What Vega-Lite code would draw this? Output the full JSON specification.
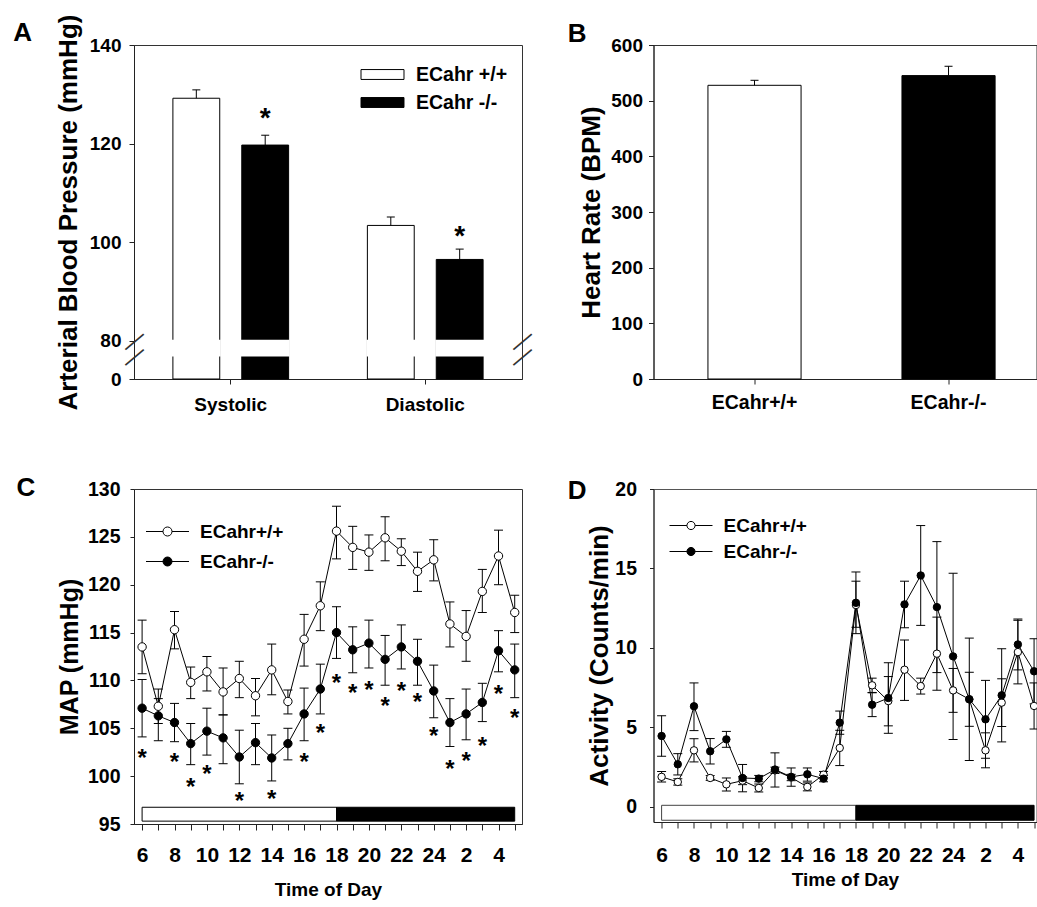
{
  "$schema": "https://vega.github.io/schema/vega-lite/v6.json",
  "background": "white",
  "padding": {"left": 12, "top": 13, "right": 0, "bottom": 0},
  "columns": 2,
  "spacing": {"column": 26.5, "row": 59},
  "datasets": {
    "bp": [
      {"measure": "Systolic", "genotype": "ECahr +/+", "mean": 129.2, "upper": 130.9},
      {"measure": "Systolic", "genotype": "ECahr -/-", "mean": 119.7, "upper": 121.7, "star": 126.7},
      {"measure": "Diastolic", "genotype": "ECahr +/+", "mean": 103.4, "upper": 105.1},
      {"measure": "Diastolic", "genotype": "ECahr -/-", "mean": 96.5, "upper": 98.6, "star": 102.7}
    ],
    "breaks": [{"side": 0}, {"side": 1}],
    "hr": [
      {"genotype": "ECahr+/+", "mean": 527.6, "upper": 536.6},
      {"genotype": "ECahr-/-", "mean": 545.0, "upper": 561.8}
    ],
    "ld": [
      {"phase": "light", "start": 6, "end": 18},
      {"phase": "dark", "start": 18, "end": 29}
    ],
    "map": [
      {"hour": 6, "genotype": "ECahr+/+", "mean": 113.5, "lower": 110.7, "upper": 116.3},
      {"hour": 7, "genotype": "ECahr+/+", "mean": 107.3, "lower": 105.5, "upper": 109.1},
      {"hour": 8, "genotype": "ECahr+/+", "mean": 115.3, "lower": 113.3, "upper": 117.2},
      {"hour": 9, "genotype": "ECahr+/+", "mean": 109.8, "lower": 108.1, "upper": 111.4},
      {"hour": 10, "genotype": "ECahr+/+", "mean": 110.9, "lower": 108.9, "upper": 112.5},
      {"hour": 11, "genotype": "ECahr+/+", "mean": 108.8, "lower": 106.4, "upper": 111.3},
      {"hour": 12, "genotype": "ECahr+/+", "mean": 110.2, "lower": 108.2, "upper": 112.0},
      {"hour": 13, "genotype": "ECahr+/+", "mean": 108.4, "lower": 106.3, "upper": 110.2},
      {"hour": 14, "genotype": "ECahr+/+", "mean": 111.1, "lower": 108.5, "upper": 113.8},
      {"hour": 15, "genotype": "ECahr+/+", "mean": 107.8, "lower": 106.5, "upper": 109.0},
      {"hour": 16, "genotype": "ECahr+/+", "mean": 114.3, "lower": 111.5, "upper": 116.9},
      {"hour": 17, "genotype": "ECahr+/+", "mean": 117.8, "lower": 115.2, "upper": 120.3},
      {"hour": 18, "genotype": "ECahr+/+", "mean": 125.6, "lower": 122.7, "upper": 128.2},
      {"hour": 19, "genotype": "ECahr+/+", "mean": 123.9, "lower": 121.6, "upper": 126.1},
      {"hour": 20, "genotype": "ECahr+/+", "mean": 123.4, "lower": 121.5, "upper": 125.2},
      {"hour": 21, "genotype": "ECahr+/+", "mean": 124.9, "lower": 122.5, "upper": 127.1},
      {"hour": 22, "genotype": "ECahr+/+", "mean": 123.5, "lower": 122.0, "upper": 124.8},
      {"hour": 23, "genotype": "ECahr+/+", "mean": 121.4, "lower": 119.3, "upper": 123.4},
      {"hour": 24, "genotype": "ECahr+/+", "mean": 122.6, "lower": 120.4, "upper": 124.7},
      {"hour": 25, "genotype": "ECahr+/+", "mean": 115.9, "lower": 113.5, "upper": 118.2},
      {"hour": 26, "genotype": "ECahr+/+", "mean": 114.6, "lower": 112.0, "upper": 117.3},
      {"hour": 27, "genotype": "ECahr+/+", "mean": 119.3, "lower": 117.1, "upper": 121.6},
      {"hour": 28, "genotype": "ECahr+/+", "mean": 123.0, "lower": 120.0, "upper": 125.7},
      {"hour": 29, "genotype": "ECahr+/+", "mean": 117.1, "lower": 115.0, "upper": 118.9},
      {"hour": 6, "genotype": "ECahr-/-", "mean": 107.1, "lower": 104.1, "upper": 110.1},
      {"hour": 7, "genotype": "ECahr-/-", "mean": 106.3, "lower": 103.7, "upper": 108.1},
      {"hour": 8, "genotype": "ECahr-/-", "mean": 105.6, "lower": 103.6, "upper": 107.6},
      {"hour": 9, "genotype": "ECahr-/-", "mean": 103.4, "lower": 101.2, "upper": 105.5},
      {"hour": 10, "genotype": "ECahr-/-", "mean": 104.7, "lower": 102.2, "upper": 107.1},
      {"hour": 11, "genotype": "ECahr-/-", "mean": 104.0, "lower": 101.3, "upper": 106.4},
      {"hour": 12, "genotype": "ECahr-/-", "mean": 102.0, "lower": 99.2, "upper": 104.8},
      {"hour": 13, "genotype": "ECahr-/-", "mean": 103.5, "lower": 101.2, "upper": 105.5},
      {"hour": 14, "genotype": "ECahr-/-", "mean": 101.9, "lower": 99.5, "upper": 104.3},
      {"hour": 15, "genotype": "ECahr-/-", "mean": 103.4, "lower": 101.7, "upper": 105.0},
      {"hour": 16, "genotype": "ECahr-/-", "mean": 106.5, "lower": 103.7, "upper": 109.2},
      {"hour": 17, "genotype": "ECahr-/-", "mean": 109.1, "lower": 106.5, "upper": 111.7},
      {"hour": 18, "genotype": "ECahr-/-", "mean": 115.0, "lower": 112.3, "upper": 117.7},
      {"hour": 19, "genotype": "ECahr-/-", "mean": 113.2, "lower": 110.8, "upper": 115.6},
      {"hour": 20, "genotype": "ECahr-/-", "mean": 113.9, "lower": 111.3, "upper": 116.3},
      {"hour": 21, "genotype": "ECahr-/-", "mean": 112.2, "lower": 109.5, "upper": 114.7},
      {"hour": 22, "genotype": "ECahr-/-", "mean": 113.5, "lower": 111.2, "upper": 115.8},
      {"hour": 23, "genotype": "ECahr-/-", "mean": 112.0, "lower": 109.5, "upper": 114.3},
      {"hour": 24, "genotype": "ECahr-/-", "mean": 108.9, "lower": 106.1, "upper": 111.6},
      {"hour": 25, "genotype": "ECahr-/-", "mean": 105.6, "lower": 103.1, "upper": 108.1},
      {"hour": 26, "genotype": "ECahr-/-", "mean": 106.5, "lower": 103.8, "upper": 109.1},
      {"hour": 27, "genotype": "ECahr-/-", "mean": 107.7, "lower": 105.7, "upper": 109.7},
      {"hour": 28, "genotype": "ECahr-/-", "mean": 113.1, "lower": 110.9, "upper": 115.2},
      {"hour": 29, "genotype": "ECahr-/-", "mean": 111.1, "lower": 108.2, "upper": 113.8}
    ],
    "sigC": [
      {"hour": 6, "level": 102.5}, {"hour": 8, "level": 102.1}, {"hour": 9, "level": 99.5},
      {"hour": 10, "level": 100.8}, {"hour": 12, "level": 98.0}, {"hour": 14, "level": 98.2},
      {"hour": 16, "level": 102.1}, {"hour": 17, "level": 105.1}, {"hour": 18, "level": 110.4},
      {"hour": 19, "level": 109.3}, {"hour": 20, "level": 109.6}, {"hour": 21, "level": 108.0},
      {"hour": 22, "level": 109.5}, {"hour": 23, "level": 108.4}, {"hour": 24, "level": 104.8},
      {"hour": 25, "level": 101.4}, {"hour": 26, "level": 102.2}, {"hour": 27, "level": 103.8},
      {"hour": 28, "level": 109.2}, {"hour": 29, "level": 106.7}
    ],
    "act": [
      {"hour": 6, "genotype": "ECahr+/+", "mean": 1.89, "lower": 1.57, "upper": 2.22},
      {"hour": 7, "genotype": "ECahr+/+", "mean": 1.57, "lower": 1.37, "upper": 1.77},
      {"hour": 8, "genotype": "ECahr+/+", "mean": 3.56, "lower": 2.83, "upper": 4.29},
      {"hour": 9, "genotype": "ECahr+/+", "mean": 1.82, "lower": 1.67, "upper": 1.97},
      {"hour": 10, "genotype": "ECahr+/+", "mean": 1.42, "lower": 1.0, "upper": 1.82},
      {"hour": 11, "genotype": "ECahr+/+", "mean": 1.65, "lower": 1.4, "upper": 1.9},
      {"hour": 12, "genotype": "ECahr+/+", "mean": 1.19, "lower": 0.94, "upper": 1.44},
      {"hour": 13, "genotype": "ECahr+/+", "mean": 2.3, "lower": 2.1, "upper": 2.5},
      {"hour": 14, "genotype": "ECahr+/+", "mean": 1.85, "lower": 1.65, "upper": 2.05},
      {"hour": 15, "genotype": "ECahr+/+", "mean": 1.26, "lower": 1.01, "upper": 1.51},
      {"hour": 16, "genotype": "ECahr+/+", "mean": 2.03, "lower": 1.83, "upper": 2.23},
      {"hour": 17, "genotype": "ECahr+/+", "mean": 3.71, "lower": 2.6, "upper": 4.82},
      {"hour": 18, "genotype": "ECahr+/+", "mean": 12.7, "lower": 11.3, "upper": 14.2},
      {"hour": 19, "genotype": "ECahr+/+", "mean": 7.65, "lower": 7.2, "upper": 8.1},
      {"hour": 20, "genotype": "ECahr+/+", "mean": 6.66, "lower": 5.1, "upper": 8.2},
      {"hour": 21, "genotype": "ECahr+/+", "mean": 8.63, "lower": 6.7, "upper": 10.5},
      {"hour": 22, "genotype": "ECahr+/+", "mean": 7.6, "lower": 7.1, "upper": 8.1},
      {"hour": 23, "genotype": "ECahr+/+", "mean": 9.64, "lower": 7.34, "upper": 11.94},
      {"hour": 24, "genotype": "ECahr+/+", "mean": 7.33, "lower": 5.95, "upper": 8.71},
      {"hour": 25, "genotype": "ECahr+/+", "mean": 6.77, "lower": 5.07, "upper": 8.47},
      {"hour": 26, "genotype": "ECahr+/+", "mean": 3.56, "lower": 2.46, "upper": 4.66},
      {"hour": 27, "genotype": "ECahr+/+", "mean": 6.56, "lower": 5.06, "upper": 8.06},
      {"hour": 28, "genotype": "ECahr+/+", "mean": 9.74, "lower": 7.74, "upper": 11.74},
      {"hour": 29, "genotype": "ECahr+/+", "mean": 6.35, "lower": 4.9, "upper": 7.8},
      {"hour": 6, "genotype": "ECahr-/-", "mean": 4.46, "lower": 3.18, "upper": 5.74},
      {"hour": 7, "genotype": "ECahr-/-", "mean": 2.68, "lower": 2.01, "upper": 3.35},
      {"hour": 8, "genotype": "ECahr-/-", "mean": 6.33, "lower": 4.8, "upper": 7.8},
      {"hour": 9, "genotype": "ECahr-/-", "mean": 3.5, "lower": 2.7, "upper": 4.3},
      {"hour": 10, "genotype": "ECahr-/-", "mean": 4.25, "lower": 3.75, "upper": 4.75},
      {"hour": 11, "genotype": "ECahr-/-", "mean": 1.82, "lower": 0.95, "upper": 2.67},
      {"hour": 12, "genotype": "ECahr-/-", "mean": 1.78, "lower": 1.58, "upper": 1.98},
      {"hour": 13, "genotype": "ECahr-/-", "mean": 2.35, "lower": 1.25, "upper": 3.4},
      {"hour": 14, "genotype": "ECahr-/-", "mean": 1.89, "lower": 1.3, "upper": 2.45},
      {"hour": 15, "genotype": "ECahr-/-", "mean": 2.05, "lower": 1.62, "upper": 2.45},
      {"hour": 16, "genotype": "ECahr-/-", "mean": 1.78, "lower": 1.58, "upper": 1.98},
      {"hour": 17, "genotype": "ECahr-/-", "mean": 5.3, "lower": 4.57, "upper": 6.03},
      {"hour": 18, "genotype": "ECahr-/-", "mean": 12.84, "lower": 10.9, "upper": 14.78},
      {"hour": 19, "genotype": "ECahr-/-", "mean": 6.43, "lower": 5.68, "upper": 7.18},
      {"hour": 20, "genotype": "ECahr-/-", "mean": 6.85, "lower": 4.63, "upper": 9.07},
      {"hour": 21, "genotype": "ECahr-/-", "mean": 12.74, "lower": 11.27, "upper": 14.2},
      {"hour": 22, "genotype": "ECahr-/-", "mean": 14.56, "lower": 11.42, "upper": 17.7},
      {"hour": 23, "genotype": "ECahr-/-", "mean": 12.57, "lower": 8.45, "upper": 16.69},
      {"hour": 24, "genotype": "ECahr-/-", "mean": 9.47, "lower": 4.24, "upper": 14.7},
      {"hour": 25, "genotype": "ECahr-/-", "mean": 6.77, "lower": 2.92, "upper": 10.62},
      {"hour": 26, "genotype": "ECahr-/-", "mean": 5.51, "lower": 3.06, "upper": 7.96},
      {"hour": 27, "genotype": "ECahr-/-", "mean": 7.02, "lower": 4.09, "upper": 9.95},
      {"hour": 28, "genotype": "ECahr-/-", "mean": 10.22, "lower": 8.62, "upper": 11.82},
      {"hour": 29, "genotype": "ECahr-/-", "mean": 8.53, "lower": 6.48, "upper": 10.58}
    ]
  },
  "concat": [
    {
      "width": 388,
      "height": 334,
      "title": {"text": "A", "dx": -42, "dy": 36},
      "layer": [
        {
          "data": {"name": "bp"},
          "layer": [
            {
              "mark": {"type": "bar", "stroke": "black", "strokeWidth": 1},
              "encoding": {
                "x": {"field": "measure", "type": "nominal", "sort": ["Systolic", "Diastolic"], "scale": {"paddingInner": 0.405, "paddingOuter": 0.2}, "axis": {"title": null, "labelAngle": 0, "labelFontSize": 19, "labelPadding": 11}},
                "xOffset": {"field": "genotype", "type": "nominal", "sort": ["ECahr +/+", "ECahr -/-"], "scale": {"paddingInner": 0.32, "paddingOuter": 0}},
                "y": {"field": "mean", "type": "quantitative", "scale": {"domain": [72.25, 140], "nice": false, "zero": false}, "axis": {"title": "Arterial Blood Pressure (mmHg)", "values": [72.25, 80, 100, 120, 140], "labelExpr": "datum.value < 75 ? '0' : datum.label", "labelFontSize": 19, "labelPadding": 8, "titlePadding": 8}},
                "y2": {"datum": 72.25},
                "fill": {"field": "genotype", "type": "nominal", "scale": {"domain": ["ECahr +/+", "ECahr -/-"], "range": ["white", "black"]}, "legend": {"orient": "none", "legendX": 237, "legendY": 18, "title": null, "symbolType": "M-2,-0.46H2V0.46H-2Z", "symbolSize": 462, "symbolStrokeColor": "black", "symbolStrokeWidth": 1, "labelFontSize": 19.5, "labelOffset": 22, "rowPadding": 7}}
              }
            },
            {
              "mark": {"type": "bar", "fill": "white", "stroke": "white", "strokeWidth": 2},
              "encoding": {
                "x": {"field": "measure", "type": "nominal", "sort": ["Systolic", "Diastolic"]},
                "xOffset": {"field": "genotype", "type": "nominal", "sort": ["ECahr +/+", "ECahr -/-"]},
                "y": {"datum": 80, "type": "quantitative"},
                "y2": {"datum": 77}
              }
            },
            {
              "mark": {"type": "rule", "color": "black", "strokeWidth": 1},
              "encoding": {
                "x": {"field": "measure", "type": "nominal", "sort": ["Systolic", "Diastolic"]},
                "xOffset": {"field": "genotype", "type": "nominal", "sort": ["ECahr +/+", "ECahr -/-"]},
                "y": {"field": "mean", "type": "quantitative"},
                "y2": {"field": "upper"}
              }
            },
            {
              "mark": {"type": "tick", "orient": "horizontal", "size": 8, "thickness": 1, "color": "black", "opacity": 1},
              "encoding": {
                "x": {"field": "measure", "type": "nominal", "sort": ["Systolic", "Diastolic"]},
                "xOffset": {"field": "genotype", "type": "nominal", "sort": ["ECahr +/+", "ECahr -/-"]},
                "y": {"field": "upper", "type": "quantitative"}
              }
            },
            {
              "transform": [{"filter": "datum.star != null"}],
              "mark": {"type": "text", "text": "*", "fontSize": 28, "fontWeight": "bold", "baseline": "middle", "dy": 8, "color": "black"},
              "encoding": {
                "x": {"field": "measure", "type": "nominal", "sort": ["Systolic", "Diastolic"]},
                "xOffset": {"field": "genotype", "type": "nominal", "sort": ["ECahr +/+", "ECahr -/-"]},
                "y": {"field": "star", "type": "quantitative"}
              }
            }
          ]
        },
        {
          "data": {"name": "breaks"},
          "layer": [
            {
              "mark": {"type": "text", "text": "—", "angle": 320, "fontSize": 24, "baseline": "middle", "color": "#333"},
              "encoding": {
                "x": {"field": "side", "type": "quantitative", "scale": {"domain": [0, 1], "nice": false, "zero": false}, "axis": null},
                "y": {"datum": 79.9, "type": "quantitative"}
              }
            },
            {
              "mark": {"type": "text", "text": "—", "angle": 320, "fontSize": 24, "baseline": "middle", "color": "#333"},
              "encoding": {
                "x": {"field": "side", "type": "quantitative"},
                "y": {"datum": 76.8, "type": "quantitative"}
              }
            }
          ]
        }
      ],
      "resolve": {"scale": {"x": "independent"}}
    },
    {
      "width": 383,
      "height": 334,
      "title": {"text": "B", "dx": -11, "dy": 15},
      "data": {"name": "hr"},
      "layer": [
        {
          "mark": {"type": "bar", "stroke": "black", "strokeWidth": 1},
          "encoding": {
            "x": {"field": "genotype", "type": "nominal", "sort": ["ECahr+/+", "ECahr-/-"], "scale": {"paddingInner": 0.52, "paddingOuter": 0.247, "align": 0.568}, "axis": {"title": null, "labelAngle": 0, "labelFontSize": 19.5, "labelPadding": 9}},
            "y": {"field": "mean", "type": "quantitative", "scale": {"domain": [0, 600], "nice": false}, "axis": {"title": "Heart Rate (BPM)", "values": [0, 100, 200, 300, 400, 500, 600], "labelFontSize": 19, "labelPadding": 6, "titlePadding": 6}},
            "fill": {"field": "genotype", "type": "nominal", "scale": {"domain": ["ECahr+/+", "ECahr-/-"], "range": ["white", "black"]}, "legend": null}
          }
        },
        {
          "mark": {"type": "rule", "color": "black", "strokeWidth": 1},
          "encoding": {
            "x": {"field": "genotype", "type": "nominal", "sort": ["ECahr+/+", "ECahr-/-"]},
            "y": {"field": "mean", "type": "quantitative"},
            "y2": {"field": "upper"}
          }
        },
        {
          "mark": {"type": "tick", "orient": "horizontal", "size": 8, "thickness": 1, "color": "black", "opacity": 1},
          "encoding": {
            "x": {"field": "genotype", "type": "nominal", "sort": ["ECahr+/+", "ECahr-/-"]},
            "y": {"field": "upper", "type": "quantitative"}
          }
        }
      ]
    },
    {
      "width": 388,
      "height": 335,
      "title": {"text": "C", "dx": -41, "dy": 26},
      "layer": [
        {
          "data": {"name": "ld"},
          "transform": [{"filter": "datum.phase === 'light'"}],
          "mark": {"type": "rect", "fill": "white", "stroke": "black", "strokeWidth": 1},
          "encoding": {
            "x": {"field": "start", "type": "quantitative", "scale": {"domain": [5.5, 29.45], "nice": false, "zero": false}, "axis": {"title": "Time of Day", "titleFontSize": 19, "values": [6, 7, 8, 9, 10, 11, 12, 13, 14, 15, 16, 17, 18, 19, 20, 21, 22, 23, 24, 25, 26, 27, 28, 29], "tickCount": 40, "labelExpr": "datum.value % 2 === 0 ? (datum.value > 24 ? '' + (datum.value - 24) : '' + datum.value) : ''", "labelOverlap": false, "labelBaseline": "top", "labelFontSize": 21, "labelPadding": 14, "titlePadding": 15, "tickSize": 6}},
            "x2": {"field": "end"},
            "y": {"datum": 96.75, "type": "quantitative", "scale": {"domain": [95, 130], "nice": false, "zero": false}, "axis": {"title": "MAP (mmHg)", "titleFontSize": 25, "values": [95, 100, 105, 110, 115, 120, 125, 130], "labelFontSize": 19.5, "labelPadding": 10, "titlePadding": 5, "tickSize": 4}},
            "y2": {"datum": 95.3}
          }
        },
        {
          "data": {"name": "ld"},
          "transform": [{"filter": "datum.phase === 'dark'"}],
          "mark": {"type": "rect", "fill": "black", "stroke": "black", "strokeWidth": 1},
          "encoding": {
            "x": {"field": "start", "type": "quantitative"},
            "x2": {"field": "end"},
            "y": {"datum": 96.75, "type": "quantitative"},
            "y2": {"datum": 95.3}
          }
        },
        {
          "data": {"name": "map"},
          "mark": {"type": "rule", "color": "black", "strokeWidth": 1},
          "encoding": {
            "x": {"field": "hour", "type": "quantitative"},
            "y": {"field": "lower", "type": "quantitative"},
            "y2": {"field": "upper"}
          }
        },
        {
          "data": {"name": "map"},
          "mark": {"type": "tick", "orient": "horizontal", "size": 9, "thickness": 1, "color": "black", "opacity": 1},
          "encoding": {
            "x": {"field": "hour", "type": "quantitative"},
            "y": {"field": "lower", "type": "quantitative"}
          }
        },
        {
          "data": {"name": "map"},
          "mark": {"type": "tick", "orient": "horizontal", "size": 9, "thickness": 1, "color": "black", "opacity": 1},
          "encoding": {
            "x": {"field": "hour", "type": "quantitative"},
            "y": {"field": "upper", "type": "quantitative"}
          }
        },
        {
          "data": {"name": "map"},
          "mark": {"type": "line", "color": "black", "strokeWidth": 1},
          "encoding": {
            "x": {"field": "hour", "type": "quantitative"},
            "y": {"field": "mean", "type": "quantitative"},
            "detail": {"field": "genotype", "type": "nominal"}
          }
        },
        {
          "data": {"name": "map"},
          "mark": {"type": "point", "filled": true, "stroke": "black", "strokeWidth": 1, "size": 70, "opacity": 1},
          "encoding": {
            "x": {"field": "hour", "type": "quantitative"},
            "y": {"field": "mean", "type": "quantitative"},
            "fill": {"field": "genotype", "type": "nominal", "scale": {"domain": ["ECahr+/+", "ECahr-/-"], "range": ["white", "black"]}, "legend": {"orient": "none", "legendX": 22, "legendY": 31, "title": null, "symbolType": "M-2,0H-0.42M0.42,0H2M-0.42,0A0.42,0.42,0,1,1,0.42,0A0.42,0.42,0,1,1,-0.42,0Z", "symbolSize": 462, "symbolStrokeColor": "black", "symbolStrokeWidth": 1, "labelFontSize": 19, "labelOffset": 21, "rowPadding": 8}}
          }
        },
        {
          "data": {"name": "sigC"},
          "mark": {"type": "text", "text": "*", "fontSize": 24, "fontWeight": "bold", "baseline": "middle", "dy": 7, "color": "black"},
          "encoding": {
            "x": {"field": "hour", "type": "quantitative"},
            "y": {"field": "level", "type": "quantitative"}
          }
        }
      ]
    },
    {
      "width": 383,
      "height": 333,
      "title": {"text": "D", "dx": -19, "dy": 29},
      "view": {"stroke": "#555"},
      "layer": [
        {
          "data": {"name": "ld"},
          "transform": [{"filter": "datum.phase === 'light'"}],
          "mark": {"type": "rect", "fill": "white", "stroke": "#444", "strokeWidth": 1},
          "encoding": {
            "x": {"field": "start", "type": "quantitative", "scale": {"domain": [5.5, 29.15], "nice": false, "zero": false}, "axis": {"title": "Time of Day", "titleFontSize": 19, "values": [6, 7, 8, 9, 10, 11, 12, 13, 14, 15, 16, 17, 18, 19, 20, 21, 22, 23, 24, 25, 26, 27, 28, 29], "tickCount": 40, "labelExpr": "datum.value % 2 === 0 ? (datum.value > 24 ? '' + (datum.value - 24) : '' + datum.value) : ''", "labelOverlap": false, "labelBaseline": "top", "labelFontSize": 21, "labelPadding": 16, "titlePadding": 5, "tickSize": 6}},
            "x2": {"field": "end"},
            "y": {"datum": 0.1, "type": "quantitative", "scale": {"domain": [-0.95, 20], "nice": false, "zero": false}, "axis": {"title": "Activity (Counts/min)", "titleFontSize": 26, "values": [0, 5, 10, 15, 20], "labelFontSize": 19.5, "labelPadding": 13, "titlePadding": 2, "tickSize": 4}},
            "y2": {"datum": -0.84}
          }
        },
        {
          "data": {"name": "ld"},
          "transform": [{"filter": "datum.phase === 'dark'"}],
          "mark": {"type": "rect", "fill": "black", "stroke": "black", "strokeWidth": 1},
          "encoding": {
            "x": {"field": "start", "type": "quantitative"},
            "x2": {"field": "end"},
            "y": {"datum": 0.1, "type": "quantitative"},
            "y2": {"datum": -0.84}
          }
        },
        {
          "data": {"name": "act"},
          "mark": {"type": "rule", "color": "black", "strokeWidth": 1},
          "encoding": {
            "x": {"field": "hour", "type": "quantitative"},
            "y": {"field": "lower", "type": "quantitative"},
            "y2": {"field": "upper"}
          }
        },
        {
          "data": {"name": "act"},
          "mark": {"type": "tick", "orient": "horizontal", "size": 9, "thickness": 1, "color": "black", "opacity": 1},
          "encoding": {
            "x": {"field": "hour", "type": "quantitative"},
            "y": {"field": "lower", "type": "quantitative"}
          }
        },
        {
          "data": {"name": "act"},
          "mark": {"type": "tick", "orient": "horizontal", "size": 9, "thickness": 1, "color": "black", "opacity": 1},
          "encoding": {
            "x": {"field": "hour", "type": "quantitative"},
            "y": {"field": "upper", "type": "quantitative"}
          }
        },
        {
          "data": {"name": "act"},
          "mark": {"type": "line", "color": "black", "strokeWidth": 1},
          "encoding": {
            "x": {"field": "hour", "type": "quantitative"},
            "y": {"field": "mean", "type": "quantitative"},
            "detail": {"field": "genotype", "type": "nominal"}
          }
        },
        {
          "data": {"name": "act"},
          "mark": {"type": "point", "filled": true, "stroke": "black", "strokeWidth": 1, "size": 55, "opacity": 1},
          "encoding": {
            "x": {"field": "hour", "type": "quantitative"},
            "y": {"field": "mean", "type": "quantitative"},
            "fill": {"field": "genotype", "type": "nominal", "scale": {"domain": ["ECahr+/+", "ECahr-/-"], "range": ["white", "black"]}, "legend": {"orient": "none", "legendX": 26, "legendY": 25, "title": null, "symbolType": "M-2,0H-0.38M0.38,0H2M-0.38,0A0.38,0.38,0,1,1,0.38,0A0.38,0.38,0,1,1,-0.38,0Z", "symbolSize": 462, "symbolStrokeColor": "black", "symbolStrokeWidth": 1, "labelFontSize": 19, "labelOffset": 21, "rowPadding": 4}}
          }
        }
      ]
    }
  ],
  "resolve": {"scale": {"fill": "independent"}, "legend": {"fill": "independent"}},
  "config": {
    "font": "Liberation Sans",
    "view": {"stroke": "#333", "strokeWidth": 1},
    "axis": {"labelFont": "Liberation Sans", "titleFont": "Liberation Sans", "labelFontWeight": "bold", "titleFontWeight": "bold", "labelColor": "black", "titleColor": "black", "domainColor": "#222", "tickColor": "#222", "grid": false, "tickSize": 5, "labelFontSize": 19, "titleFontSize": 26, "labelOverlap": false},
    "legend": {"labelFont": "Liberation Sans", "labelFontWeight": "bold", "labelFontSize": 19, "labelColor": "black"},
    "title": {"font": "Liberation Sans", "fontSize": 26, "fontWeight": "bold", "anchor": "start", "frame": "bounds", "color": "black"},
    "text": {"font": "Liberation Sans"}
  }
}
